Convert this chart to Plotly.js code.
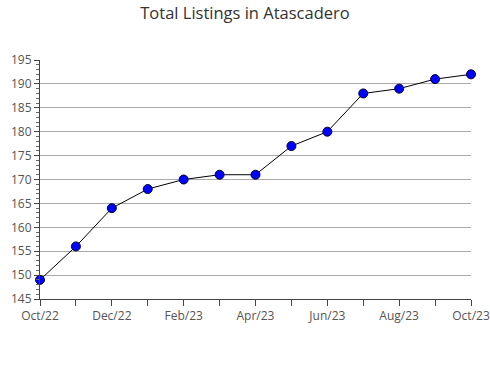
<!DOCTYPE html>
<html><head><meta charset="utf-8">
<script src="https://cdn.plot.ly/plotly-3.0.1.min.js"></script>
<style>html,body{margin:0;padding:0;background:#fff}#chart{width:490px;height:380px}</style>
</head><body><div id="chart"></div>
<script>
const months = ["Oct/22","Nov/22","Dec/22","Jan/23","Feb/23","Mar/23","Apr/23","May/23","Jun/23","Jul/23","Aug/23","Sep/23","Oct/23"];
const listings = [149,156,164,168,170,171,171,177,180,188,189,191,192];
const yTicks = [145,150,155,160,165,170,175,180,185,190,195];

const idx = months.map((m,i)=>i);
const tickText = months.map((m,i)=> i%2===0 ? m : "");

Plotly.newPlot('chart', [{
  x: idx, y: listings, type:'scatter', mode:'lines+markers',
  line:{color:'#000', width:1},
  marker:{color:'#0000ff', size:9, line:{color:'#000033', width:1}},
  cliponaxis:false, hoverinfo:'none'
}], {
  width:490, height:380,
  margin:{l:40, r:19, t:60, b:81},
  paper_bgcolor:'#fff', plot_bgcolor:'#fff',
  font:{family:'"Open Sans", sans-serif', color:'#555'},
  title:{text:'Total Listings in Atascadero', x:0.5, xanchor:'center', y:0.98, yanchor:'top', font:{size:16.5, color:'#333'}},
  showlegend:false,
  xaxis:{range:[0,12], tickvals:idx, ticktext:tickText, ticks:'outside', ticklen:6, tickcolor:'#444',
    showgrid:false, zeroline:false, showline:true, linecolor:'#444', linewidth:1, tickfont:{size:12, color:'#555'}, fixedrange:true},
  yaxis:{range:[145,195], tickvals:yTicks, ticks:'outside', ticklen:5, tickcolor:'#444',
    showgrid:true, gridcolor:'#aaa', gridwidth:1, zeroline:false, showline:true, linecolor:'#444', linewidth:1,
    minor:{dtick:1, ticks:'outside', ticklen:3, tickcolor:'#666', showgrid:false},
    tickfont:{size:12, color:'#555'}, fixedrange:true}
}, {displayModeBar:false, staticPlot:true});
</script></body></html>
